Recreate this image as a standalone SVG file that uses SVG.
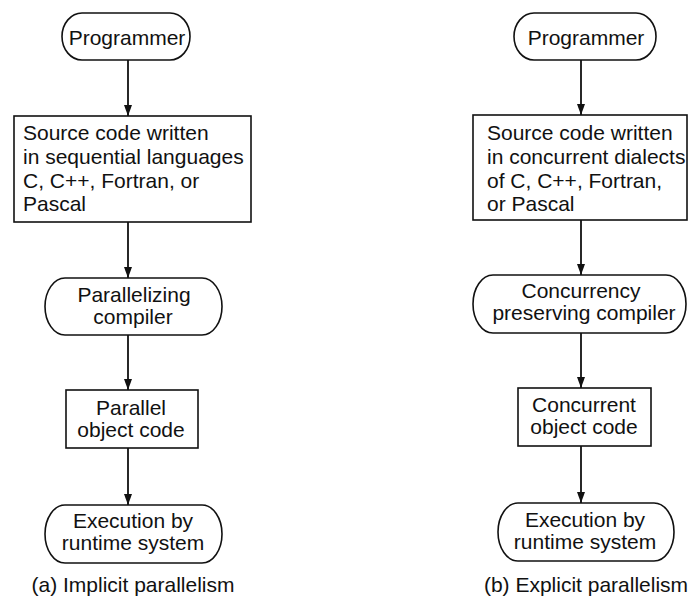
<svg xmlns="http://www.w3.org/2000/svg" width="688" height="598" viewBox="0 0 688 598">
  <style>
    .shape { fill: #ffffff; stroke: #111111; stroke-width: 1.6; }
    .label { font-family: "Liberation Sans", Arial, Helvetica, sans-serif; font-size: 21px; fill: #111111; }
    .mid { text-anchor: middle; }
    .edge { stroke: #111111; stroke-width: 1.8; fill: none; marker-end: url(#arrow); }
  </style>
  <defs>
    <marker id="arrow" markerUnits="userSpaceOnUse" markerWidth="12" markerHeight="10" viewBox="0 -5 12 10" refX="11" refY="0" orient="auto">
      <path d="M0,-4 L11,0 L0,4 z" fill="#111111"/>
    </marker>
  </defs>

  <rect width="688" height="598" fill="#ffffff"/>

  <!-- connectors -->
  <g id="connectors">
    <line class="edge" x1="128" y1="60" x2="128" y2="116"/>
    <line class="edge" x1="128" y1="222" x2="128" y2="278"/>
    <line class="edge" x1="128" y1="335" x2="128" y2="390"/>
    <line class="edge" x1="128" y1="448" x2="128" y2="505"/>

    <line class="edge" x1="581" y1="60" x2="581" y2="115"/>
    <line class="edge" x1="581" y1="220" x2="581" y2="275"/>
    <line class="edge" x1="581" y1="333" x2="581" y2="388"/>
    <line class="edge" x1="581" y1="446" x2="581" y2="503"/>
  </g>

  <!-- (a) implicit parallelism -->
  <g id="a-programmer">
    <rect class="shape" x="62" y="13" width="128" height="47" rx="20" ry="23.5"/>
    <text class="label mid" x="127" y="45">Programmer</text>
  </g>
  <g id="a-source">
    <rect class="shape" x="14" y="116" width="237" height="106"/>
    <text class="label" x="23" y="140">Source code written</text>
    <text class="label" x="23" y="164">in sequential languages</text>
    <text class="label" x="23" y="188">C, C++, Fortran, or</text>
    <text class="label" x="23" y="211">Pascal</text>
  </g>
  <g id="a-compiler">
    <rect class="shape" x="45" y="278" width="177" height="57" rx="20" ry="28.5"/>
    <text class="label mid" x="134" y="302">Parallelizing</text>
    <text class="label mid" x="133" y="324">compiler</text>
  </g>
  <g id="a-object">
    <rect class="shape" x="66" y="390" width="132" height="58"/>
    <text class="label mid" x="131" y="415">Parallel</text>
    <text class="label mid" x="131" y="437">object code</text>
  </g>
  <g id="a-execution">
    <rect class="shape" x="45" y="505" width="177" height="58" rx="20" ry="29"/>
    <text class="label mid" x="133" y="528">Execution by</text>
    <text class="label mid" x="133" y="550">runtime system</text>
  </g>
  <text id="a-caption" class="label mid" x="133" y="592">(a) Implicit parallelism</text>

  <!-- (b) explicit parallelism -->
  <g id="b-programmer">
    <rect class="shape" x="514" y="13" width="142" height="47" rx="20" ry="23.5"/>
    <text class="label mid" x="586" y="45">Programmer</text>
  </g>
  <g id="b-source">
    <rect class="shape" x="473" y="115" width="214" height="105"/>
    <text class="label" x="487" y="140">Source code written</text>
    <text class="label" x="487" y="164">in concurrent dialects</text>
    <text class="label" x="487" y="188">of C, C++, Fortran,</text>
    <text class="label" x="487" y="211">or Pascal</text>
  </g>
  <g id="b-compiler">
    <rect class="shape" x="473" y="275" width="213" height="58" rx="20" ry="29"/>
    <text class="label mid" x="581" y="298">Concurrency</text>
    <text class="label mid" x="584" y="320">preserving compiler</text>
  </g>
  <g id="b-object">
    <rect class="shape" x="518" y="388" width="133" height="58"/>
    <text class="label mid" x="584" y="412">Concurrent</text>
    <text class="label mid" x="584" y="434">object code</text>
  </g>
  <g id="b-execution">
    <rect class="shape" x="498" y="503" width="176" height="58" rx="20" ry="29"/>
    <text class="label mid" x="585" y="527">Execution by</text>
    <text class="label mid" x="585" y="549">runtime system</text>
  </g>
  <text id="b-caption" class="label mid" x="586" y="592">(b) Explicit parallelism</text>
</svg>
